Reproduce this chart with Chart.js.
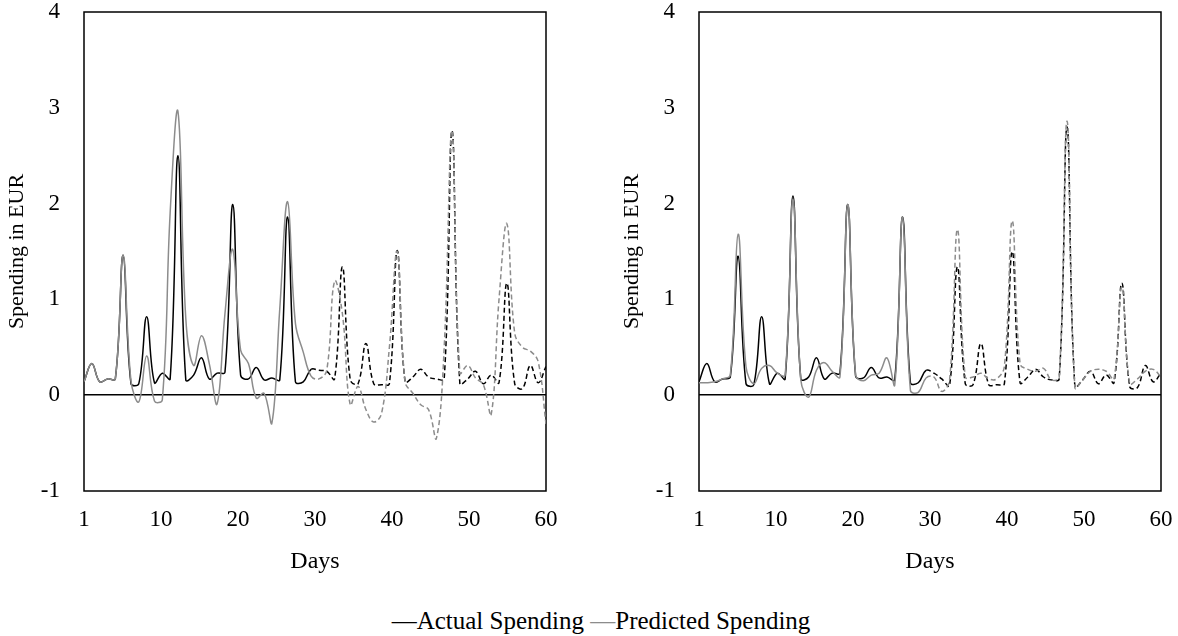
<!DOCTYPE html>
<html lang="en">
<head>
  <meta charset="UTF-8" />
  <title>Actual vs Predicted Spending</title>
  <script src="https://cdn.jsdelivr.net/npm/chart.js"></script>
  <style>
    body {
      margin: 0;
      width: 1178px;
      height: 636px;
      background: #fff;
      position: relative;
      overflow: hidden;
      font-family: "Liberation Serif", "DejaVu Serif", serif;
    }
    .panel { position: absolute; top: 0; }
    .legend {
      position: absolute;
      top: 606px;
      left: 12px;
      width: 1178px;
      text-align: center;
      font-size: 25px;
      line-height: 30px;
      color: #000;
    }
    .legend .dash-actual { color: #000; }
    .legend .dash-pred { color: #8c8c8c; }
  </style>
</head>
<body>
  <div class="panel" style="left:0"><canvas id="leftChart" width="575" height="580"></canvas></div>
  <div class="panel" style="left:615px"><canvas id="rightChart" width="563" height="580"></canvas></div>
  <div class="legend"><span class="dash-actual">—</span>Actual Spending <span class="dash-pred">—</span>Predicted Spending</div>

  <script>
    // days 1..60
    const days = [1, 2, 3, 4, 5, 6, 7, 8, 9, 10, 11, 12, 13, 14, 15, 16, 17, 18, 19, 20,
      21, 22, 23, 24, 25, 26, 27, 28, 29, 30, 31, 32, 33, 34, 35, 36, 37, 38, 39, 40,
      41, 42, 43, 44, 45, 46, 47, 48, 49, 50, 51, 52, 53, 54, 55, 56, 57, 58, 59, 60];
    const xTickValues = [0, 10, 20, 30, 40, 50, 60];
    const xTickLabels = ['1', '10', '20', '30', '40', '50', '60'];
    const forecastStart = 30; // dashed from here on

    // left panel
    const actualLeft = [0.14, 0.33, 0.14, 0.17, 0.17, 1.46, 0.12, 0.12, 0.82, 0.13,
      0.23, 0.17, 2.5, 0.16, 0.21, 0.39, 0.17, 0.23, 0.24, 1.99,
      0.21, 0.17, 0.29, 0.16, 0.18, 0.16, 1.86, 0.14, 0.14, 0.27,
      0.26, 0.25, 0.17, 1.34, 0.16, 0.12, 0.54, 0.12, 0.11, 0.12,
      1.51, 0.14, 0.19, 0.27, 0.19, 0.17, 0.17, 2.76, 0.12, 0.17,
      0.25, 0.12, 0.21, 0.13, 1.17, 0.12, 0.07, 0.31, 0.13, 0.3];
    const predictedLeft = [0.14, 0.33, 0.14, 0.17, 0.17, 1.46, 0.15, -0.07, 0.41, -0.06,
      -0.05, 1.9, 2.96, 0.8, 0.31, 0.62, 0.33, -0.09, 0.85, 1.52,
      0.47, 0.33, -0.03, 0.02, -0.29, 0.9, 2.02, 0.75, 0.45, 0.2,
      0.17, 0.26, 1.19, 0.85, -0.1, 0.09, -0.15, -0.28, -0.19, 0.5,
      1.5, 0.14, 0.02, -0.1, -0.15, -0.45, 0.5, 2.76, 0.23, 0.31,
      0.18, 0.11, -0.2, 1.0, 1.79, 0.65, 0.5, 0.46, 0.35, -0.3];

    // right panel
    const actualRight = [0.14, 0.33, 0.14, 0.17, 0.19, 1.45, 0.12, 0.11, 0.82, 0.12,
      0.23, 0.17, 2.08, 0.17, 0.19, 0.39, 0.17, 0.23, 0.23, 1.99,
      0.2, 0.18, 0.29, 0.18, 0.19, 0.16, 1.86, 0.13, 0.13, 0.26,
      0.23, 0.17, 0.1, 1.34, 0.12, 0.11, 0.54, 0.11, 0.11, 0.12,
      1.5, 0.13, 0.19, 0.27, 0.19, 0.16, 0.17, 2.8, 0.09, 0.16,
      0.25, 0.12, 0.21, 0.13, 1.17, 0.09, 0.08, 0.31, 0.14, 0.23];
    const predictedRight = [0.13, 0.13, 0.14, 0.17, 0.21, 1.68, 0.3, 0.12, 0.28, 0.31,
      0.23, 0.21, 2.04, 0.16, -0.02, 0.26, 0.34, 0.25, 0.19, 1.99,
      0.21, 0.15, 0.21, 0.23, 0.39, 0.11, 1.86, 0.05, 0.03, 0.18,
      0.19, 0.04, 0.16, 1.73, 0.19, 0.19, 0.23, 0.17, 0.17, 0.3,
      1.82, 0.33, 0.27, 0.25, 0.28, 0.16, 0.19, 2.86, 0.08, 0.16,
      0.25, 0.27, 0.25, 0.17, 1.13, 0.12, 0.17, 0.25, 0.27, 0.19];

    const family = '"Liberation Serif", "DejaVu Serif", serif';
    const tickFont = { family: family, size: 23 };
    const yTitleFont = { family: family, size: 22 };
    const xTitleFont = { family: family, size: 24 };

    // black frame around the plot area
    const frame = {
      id: 'frame',
      beforeDatasetsDraw(chart) {
        const { ctx, chartArea: a } = chart;
        ctx.save();
        ctx.strokeStyle = '#000';
        ctx.lineWidth = 1.5;
        ctx.strokeRect(a.left, a.top, a.right - a.left, a.bottom - a.top);
        ctx.restore();
      }
    };

    function series(values) {
      return days.map((d, i) => ({ x: d, y: values[i] }));
    }

    function lineSet(label, values, color) {
      return {
        label: label,
        data: series(values),
        borderColor: color,
        borderWidth: 1.5,
        pointRadius: 0,
        tension: 0.4,
        fill: false,
        xAxisID: 'x',
        segment: {
          borderDash: c => c.p0.parsed.x >= forecastStart ? [5, 3] : undefined
        }
      };
    }

    function makeChart(id, actual, predicted, rightPad) {
      new Chart(document.getElementById(id), {
        type: 'line',
        data: {
          datasets: [
            lineSet('Predicted Spending', predicted, '#8c8c8c'),
            lineSet('Actual Spending', actual, '#000000')
          ]
        },
        options: {
          responsive: false,
          animation: false,
          layout: { padding: { top: 12, right: rightPad, left: 0, bottom: 0 } },
          plugins: {
            legend: { display: false },
            tooltip: { enabled: false }
          },
          scales: {
            x: { type: 'linear', min: 1, max: 60, display: false },
            xt: {
              type: 'linear',
              position: 'bottom',
              min: 0,
              max: 60,
              afterBuildTicks: s => { s.ticks = xTickValues.map(v => ({ value: v })); },
              ticks: {
                callback: (v, i) => xTickLabels[i],
                padding: 15,
                color: '#000',
                font: tickFont,
                maxRotation: 0,
                autoSkip: false
              },
              grid: { display: false, drawTicks: false },
              border: { display: false },
              title: { display: true, text: 'Days', color: '#000', font: xTitleFont },
              afterFit: s => { s.height = 89; s.paddingLeft = 0; s.paddingRight = 0; }
            },
            y: {
              min: -1,
              max: 4,
              ticks: { stepSize: 1, padding: 24, color: '#000', font: tickFont },
              grid: {
                drawTicks: false,
                lineWidth: 1.5,
                color: c => c.tick.value === 0 ? '#000' : 'rgba(0,0,0,0)'
              },
              border: { display: false },
              title: { display: true, text: 'Spending in EUR', color: '#000', font: yTitleFont },
              afterFit: s => { s.width = 84; s.paddingTop = 0; s.paddingBottom = 0; }
            }
          }
        },
        plugins: [frame]
      });
    }

    makeChart('leftChart', actualLeft, predictedLeft, 29);
    makeChart('rightChart', actualRight, predictedRight, 17);
  </script>
</body>
</html>
